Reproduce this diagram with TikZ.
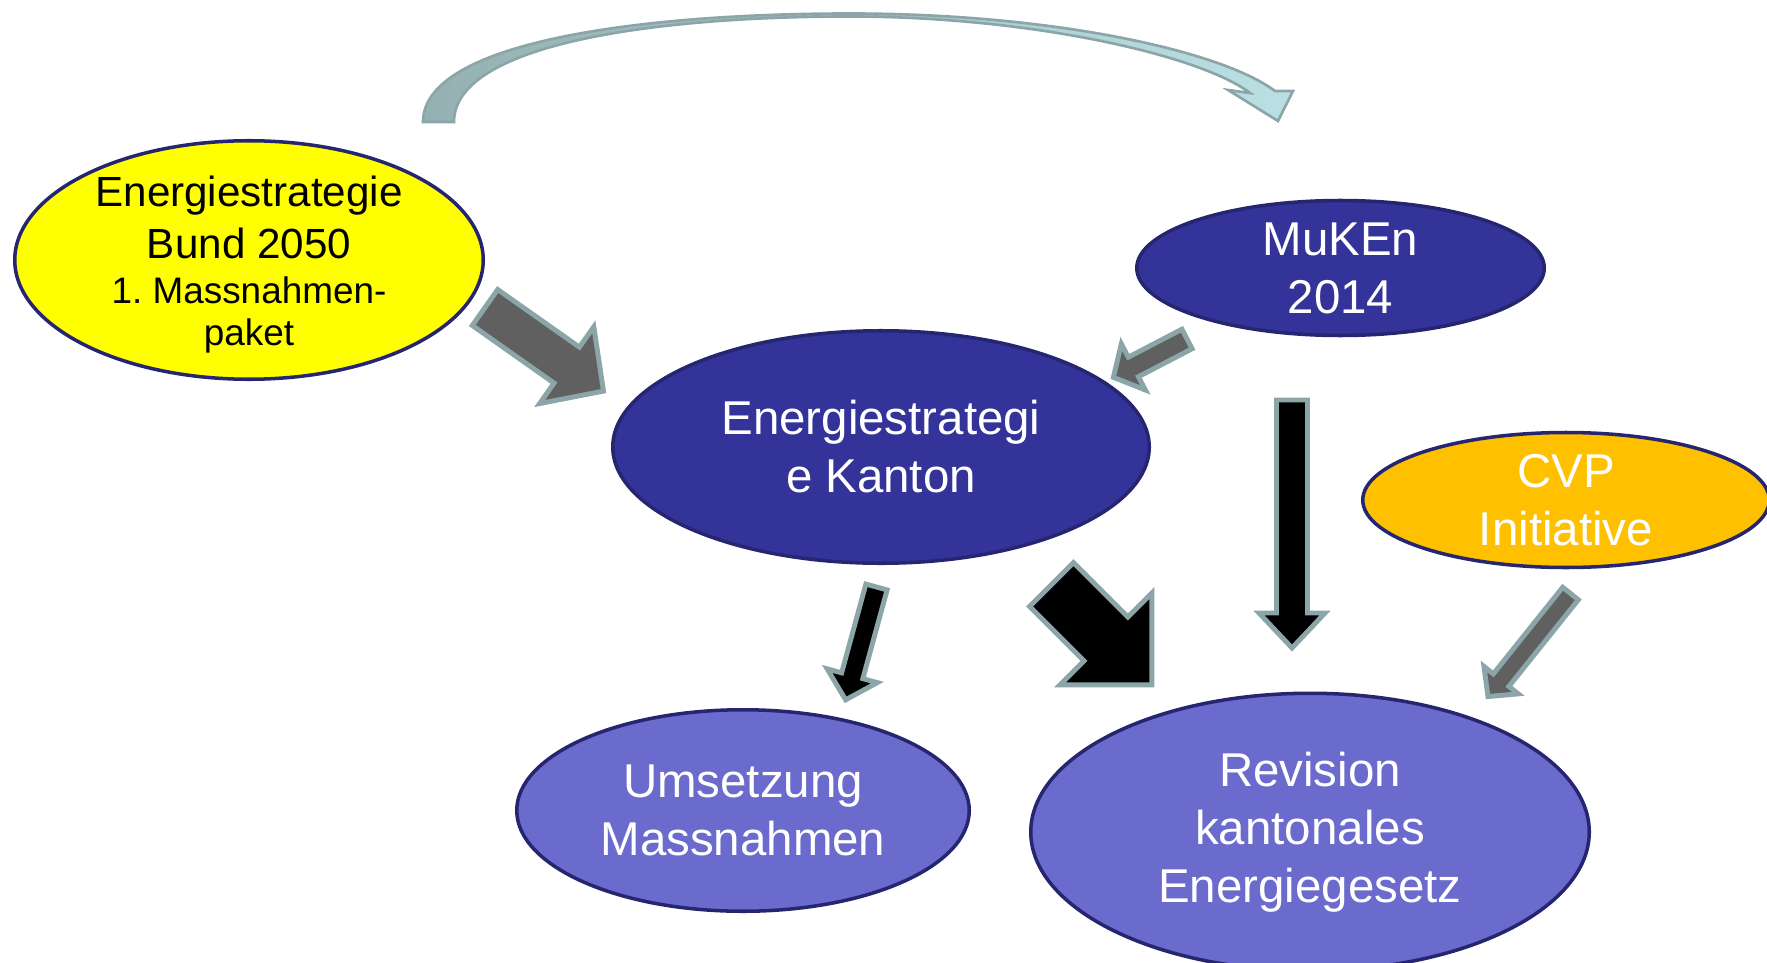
\documentclass[tikz,border=0pt]{standalone}
\usepackage{fontspec}
\setmainfont{Liberation Sans}
\usetikzlibrary{shapes.geometric}
\definecolor{rimblue}{RGB}{38,38,112}
\definecolor{navyfill}{RGB}{51,51,153}
\definecolor{lilacfill}{RGB}{107,107,205}
\definecolor{cvpfill}{RGB}{255,192,0}
\definecolor{bundfill}{RGB}{255,255,0}
\definecolor{arrowrim}{RGB}{139,165,168}
\definecolor{arrowgray}{RGB}{96,96,96}
\definecolor{curveleft}{RGB}{148,176,178}
\definecolor{curveright}{RGB}{186,224,228}
\tikzset{
    blob/.style={
        ellipse, draw=rimblue, line width=2pt, inner sep=0pt,
        align=center, text=white, font=\fontsize{27}{33}\selectfont
    },
    grayarrow/.style={fill=arrowgray, draw=arrowrim, line width=2.8pt},
    blackarrow/.style={fill=black, draw=arrowrim, line width=2.8pt},
    pics/blockarrow/.style n args={4}{
        code={
            \path[pic actions] (0,-#2) -- ({#1-#4},-#2) -- ({#1-#4},-#3)
            -- (#1,0) -- ({#1-#4},#3) -- ({#1-#4},#2) -- (0,#2) -- cycle;
        }
    }
}

\begin{document}
\begin{tikzpicture}
    \useasboundingbox (0,0) rectangle (35.34,-19.26);
    
    % curved arrow over the top
    \draw[draw=arrowrim, line width=1.5pt, left color=curveleft, right color=curveright]
    (8.46,-2.44)
    .. controls (8.46,-0.8) and (13.0,-0.27) .. (17.0,-0.27)
    .. controls (21.0,-0.27) and (24.4,-1.0) .. (25.5,-1.82)
    -- (25.86,-1.82) -- (25.56,-2.42) -- (24.56,-1.8) -- (25.0,-1.86)
    .. controls (24.0,-1.1) and (20.6,-0.33) .. (17.0,-0.33)
    .. controls (13.0,-0.33) and (9.08,-0.9) .. (9.08,-2.44)
    -- cycle;
    
    \node[blob, fill=bundfill, text=black, inner ysep=-7pt,
        minimum width=9.37cm, minimum height=4.77cm, font=\fontsize{24}{29.5}\selectfont]
    (bund) at (4.98,-5.2)
    {\rule{0pt}{23pt}Energiestrategie\\Bund 2050\\[-4pt]
     {\fontsize{21}{25}\selectfont 1.\ Massnahmen-}\\[-5.5pt]
     {\fontsize{21}{25}\selectfont paket}};
    
    \node[blob, fill=navyfill, minimum width=8.15cm, minimum height=2.7cm]
    (muken) at (26.81,-5.36) {MuKEn\\2014};
    
    \node[blob, fill=navyfill, minimum width=10.73cm, minimum height=4.65cm]
    (kanton) at (17.62,-8.94) {Energiestrategi\\e Kanton};
    
    \node[blob, fill=cvpfill, minimum width=8.13cm, minimum height=2.7cm]
    (cvp) at (31.32,-10.0) {CVP\\Initiative};
    
    \node[blob, fill=lilacfill, minimum width=9.05cm, minimum height=4.03cm]
    (umsetzung) at (14.86,-16.21) {Umsetzung\\Massnahmen};
    
    \node[blob, fill=lilacfill, minimum width=11.17cm, minimum height=5.55cm]
    (revision) at (26.2,-16.64) {Revision\\kantonales\\Energiegesetz};
    
    % block arrows
    \pic[grayarrow, rotate=-35.2] at (9.70,-6.15) {blockarrow={2.9}{0.44}{0.94}{0.9}};
    \pic[grayarrow, rotate=-152.5] at (23.74,-6.78) {blockarrow={1.66}{0.22}{0.52}{0.45}};
    \pic[blackarrow, rotate=-45] at (21.03,-11.69) {blockarrow={2.84}{0.62}{1.3}{1.3}};
    \pic[blackarrow, rotate=-90] at (25.84,-8.0) {blockarrow={4.96}{0.31}{0.66}{0.7}};
    \pic[blackarrow, rotate=-105.3] at (17.53,-11.74) {blockarrow={2.34}{0.22}{0.52}{0.5}};
    \pic[grayarrow, rotate=-128.7] at (31.41,-11.87) {blockarrow={2.64}{0.2}{0.44}{0.42}};
    
\end{tikzpicture}
\end{document}
